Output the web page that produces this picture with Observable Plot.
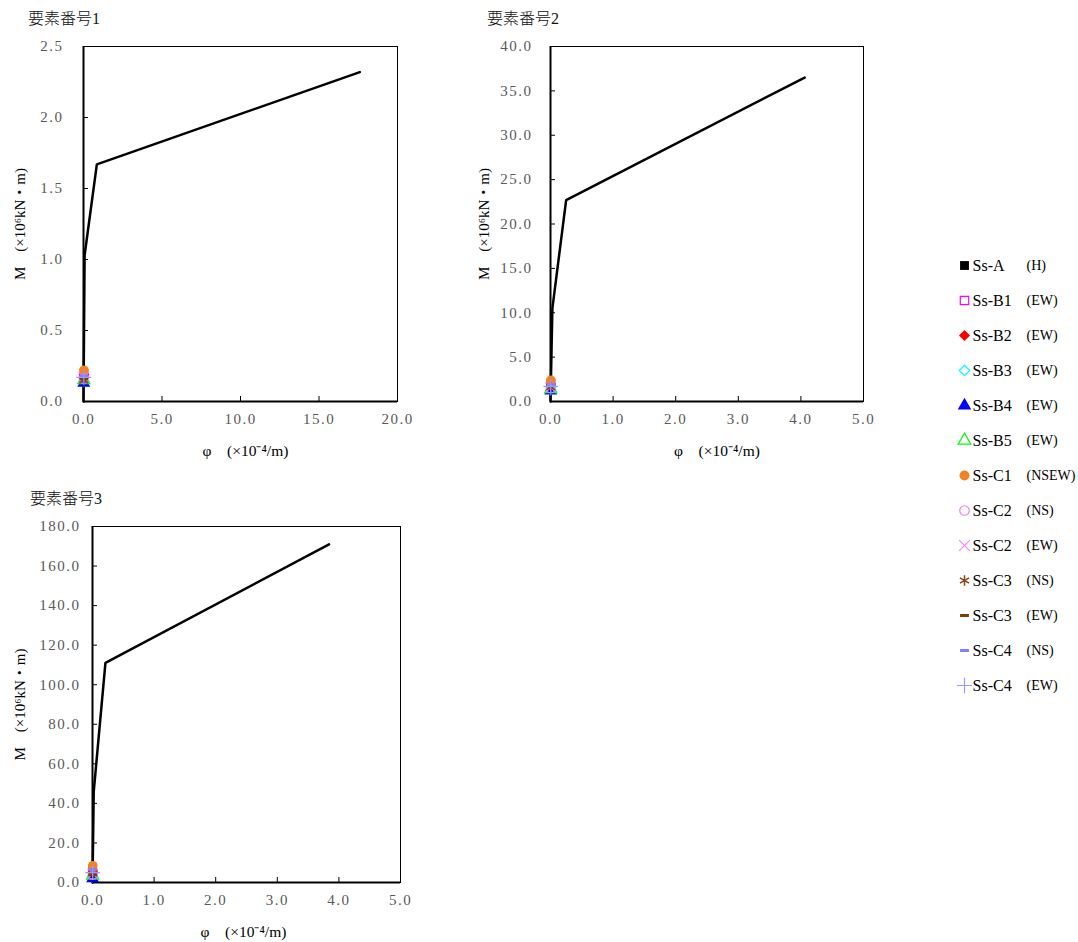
<!DOCTYPE html>
<html><head><meta charset="utf-8">
<script src="https://cdn.jsdelivr.net/npm/d3@7"></script>
<script src="https://cdn.jsdelivr.net/npm/@observablehq/plot@0.6"></script>
<style>
body{margin:0;background:#fff;}
#root{position:relative;width:1078px;height:942px;overflow:hidden;font-family:"Liberation Serif","Noto Sans CJK JP",serif;background:#fff;}
.title{position:absolute;font-size:16px;color:#111;font-family:"Liberation Serif","Noto Sans CJK JP",serif;line-height:1;font-weight:300;}
.panel{position:absolute;}
.panel svg [aria-label$="tick label"] text{letter-spacing:1.5px;}
.panel svg text.lab{letter-spacing:1.2px;}
.legend svg text.nm{letter-spacing:1.5px;}
</style></head><body><div id="root"></div>
<script>
// ---- data ----
const seriesNames = ["Ss-A","Ss-B1","Ss-B2","Ss-B3","Ss-B4","Ss-B5","Ss-C1","Ss-C2","Ss-C2","Ss-C3","Ss-C3","Ss-C4","Ss-C4"];
const seriesDirs  = ["(H)","(EW)","(EW)","(EW)","(EW)","(EW)","(NSEW)","(NS)","(EW)","(NS)","(EW)","(NS)","(EW)"];
const seriesColors = ["#000000","#ff00ff","#ff0000","#00ffff","#0000ff","#00ff00","#f58220","#ee82ee","#ff80ff","#8b4513","#7f3f00","#7f7fff","#9999ff"];
const seriesShapes = ["square","squareOpen","diamond","diamondOpen","triangle","triangleOpen","circle","circleOpen","times","asterisk","dash","dash","plus"];

const panelTitles = ["要素番号1","要素番号2","要素番号3"];
const xLabel = "φ　(×10⁻⁴/m)";
const yLabel = "M　(×10⁶kN・m)";

// skeleton curves (phi ×10^-4/m, M ×10^6 kN·m)
const curvePhi1 = [0, 0.07, 0.85, 17.6];
const curveM1   = [0, 1.03, 1.67, 2.32];
const curvePhi2 = [0, 0.03, 0.25, 4.06];
const curveM2   = [0, 10.5, 22.7, 36.5];
const curvePhi3 = [0, 0.02, 0.21, 3.84];
const curveM3   = [0, 46.0, 111.0, 171.0];

// response points per series
const ptPhi1 = [0.03,0.02,0.03,0.02,0.02,0.02,0.03,0.02,0.02,0.02,0.02,0.03,0.02];
const ptM1   = [0.20,0.17,0.19,0.14,0.13,0.15,0.22,0.16,0.17,0.15,0.16,0.18,0.17];
const ptPhi2 = [0.006,0.004,0.005,0.003,0.003,0.004,0.006,0.004,0.004,0.004,0.005,0.005,0.004];
const ptM2   = [2.1,1.7,2.0,1.3,1.2,1.4,2.4,1.5,1.6,1.6,1.8,1.9,1.7];
const ptPhi3 = [0.004,0.003,0.004,0.002,0.002,0.003,0.005,0.003,0.003,0.003,0.003,0.004,0.003];
const ptM3   = [7.0,5.0,6.0,3.0,2.0,3.5,8.5,4.0,4.5,4.5,4.0,6.5,5.0];

const xTicks1 = [0,5,10,15,20];
const yTicks1 = [0,0.5,1.0,1.5,2.0,2.5];
const xTicks2 = [0,1,2,3,4,5];
const yTicks2 = [0,5,10,15,20,25,30,35,40];
const xTicks3 = [0,1,2,3,4,5];
const yTicks3 = [0,20,40,60,80,100,120,140,160,180];

// ---- rendering ----
const FONT = `"Liberation Serif","Noto Sans CJK JP",serif`;
const dashSymbol = {draw(ctx, size){ const w = Math.sqrt(size)/2; ctx.moveTo(-w,0); ctx.lineTo(w,0); }};

function symbolOpts(i, r){
  const c = seriesColors[i], s = seriesShapes[i];
  const filled = {square:"square", diamond:"diamond2", triangle:"triangle", circle:"circle"};
  const open = {squareOpen:"square", diamondOpen:"diamond2", triangleOpen:"triangle", circleOpen:"circle"};
  if (filled[s]) return {symbol: filled[s], fill: c, stroke: "none", r};
  if (open[s]) return {symbol: open[s], fill: "none", stroke: c, strokeWidth: 1.2, r: r*0.95};
  if (s === "dash") return {symbol: dashSymbol, fill: "none", stroke: c, strokeWidth: 3, r};
  if (s === "times") return {symbol: "times", fill: "none", stroke: c, strokeWidth: 1.2, r: r*1.0};
  if (s === "asterisk") return {symbol: "asterisk", fill: "none", stroke: c, strokeWidth: 1.5, r: r*1.0};
  if (s === "plus") return {symbol: "plus", fill: "none", stroke: c, strokeWidth: 1.2, r: r*1.0};
}

const root = document.getElementById("root");

function addTitle(text, left, top){
  const d = document.createElement("div");
  d.className = "title"; d.textContent = text;
  d.style.left = left + "px"; d.style.top = top + "px";
  root.appendChild(d);
}

function panel(cfg){
  const fw = cfg.width - cfg.mL - cfg.mR, fh = cfg.height - cfg.mT - cfg.mB;
  const curve = cfg.phi.map((p, i) => ({phi: p, m: cfg.m[i]}));
  const dots = seriesNames.map((n, i) =>
    Plot.dot([{phi: cfg.ptPhi[i], m: cfg.ptM[i]}], {x: "phi", y: "m", ...symbolOpts(i, 4.8)}));
  const fmt = d => d.toFixed(1);
  const chart = Plot.plot({
    width: cfg.width, height: cfg.height,
    marginLeft: cfg.mL, marginRight: cfg.mR, marginTop: cfg.mT, marginBottom: cfg.mB,
    x: {domain: cfg.xDomain}, y: {domain: cfg.yDomain},
    style: {fontFamily: FONT, background: "transparent", overflow: "visible"},
    marks: [
      Plot.frame({stroke: "#000", strokeWidth: 1}),
      Plot.tickY(cfg.yTicks, {y: d => d, insetRight: fw - 5, stroke: "#000", strokeWidth: 1}),
      Plot.tickX(cfg.xTicks, {x: d => d, insetTop: fh - 5, stroke: "#000", strokeWidth: 1}),
      Plot.axisY(cfg.yTicks, {tickSize: 0, tickPadding: cfg.yPad, tickFormat: fmt, label: null, fill: "#595959", fontSize: 15}),
      Plot.axisX(cfg.xTicks, {tickSize: 0, tickPadding: 12, tickFormat: fmt, label: null, fill: "#595959", fontSize: 15}),
      Plot.line(curve, {x: "phi", y: "m", stroke: "#000", strokeWidth: 2.5}),
      Plot.ruleX([0], {stroke: "#000", strokeWidth: 2}),
      Plot.ruleY([0], {stroke: "#000", strokeWidth: 2}),
      ...dots,
      Plot.text([xLabel], {text: d => d, frameAnchor: "bottom", textAnchor: "middle", lineAnchor: "middle", dy: 50, dx: cfg.xlabDx, fontSize: 15.5, fill: "#000", className: "lab"}),
      Plot.text([yLabel], {text: d => d, frameAnchor: "left", textAnchor: "middle", lineAnchor: "middle", dx: cfg.ylabDx, rotate: -90, fontSize: 15, fill: "#000", className: "lab"})
    ]
  });
  const wrap = document.createElement("div");
  wrap.className = "panel";
  wrap.style.left = cfg.left + "px"; wrap.style.top = cfg.top + "px";
  wrap.appendChild(chart);
  root.appendChild(wrap);
}

addTitle(panelTitles[0], 28, 11);
addTitle(panelTitles[1], 487, 11);
addTitle(panelTitles[2], 30, 491);

panel({left: 0, top: 0, width: 420, height: 470, mL: 83, mR: 23, mT: 46, mB: 69,
  xDomain: [0, 20], yDomain: [0, 2.5], xTicks: xTicks1, yTicks: yTicks1,
  phi: curvePhi1, m: curveM1, ptPhi: ptPhi1, ptM: ptM1, yPad: 20, ylabDx: -63, xlabDx: 5});
panel({left: 460, top: 0, width: 420, height: 470, mL: 90, mR: 17, mT: 46, mB: 69,
  xDomain: [0, 5], yDomain: [0, 40], xTicks: xTicks2, yTicks: yTicks2,
  phi: curvePhi2, m: curveM2, ptPhi: ptPhi2, ptM: ptM2, yPad: 18, ylabDx: -66, xlabDx: 10});
panel({left: 0, top: 480, width: 420, height: 462, mL: 92, mR: 20, mT: 46, mB: 60,
  xDomain: [0, 5], yDomain: [0, 180], xTicks: xTicks3, yTicks: yTicks3,
  phi: curvePhi3, m: curveM3, ptPhi: ptPhi3, ptM: ptM3, yPad: 12, ylabDx: -72, xlabDx: -3});

// legend
const rows = seriesNames.map((n, i) => ({key: n + seriesDirs[i] + i, name: n, dir: seriesDirs[i], i}));
const legend = Plot.plot({
  width: 138, height: 450, marginLeft: 0, marginRight: 0, marginTop: 15, marginBottom: 15,
  y: {type: "point", domain: rows.map(r => r.key), axis: null, padding: 0},
  style: {fontFamily: FONT, background: "transparent", overflow: "visible"},
  marks: [
    ...rows.map(r => Plot.dot([r], {y: "key", frameAnchor: "left", dx: 24, ...symbolOpts(r.i, 5)})),
    Plot.text(rows, {y: "key", text: "name", frameAnchor: "left", dx: 32, textAnchor: "start", fontSize: 16, fill: "#000", className: "nm"}),
    Plot.text(rows, {y: "key", text: "dir", frameAnchor: "left", dx: 86, textAnchor: "start", fontSize: 14, fill: "#000"})
  ]
});
const lw = document.createElement("div");
lw.className = "panel legend";
lw.style.left = "940px"; lw.style.top = "250px";
lw.appendChild(legend);
root.appendChild(lw);
</script>
</body></html>
